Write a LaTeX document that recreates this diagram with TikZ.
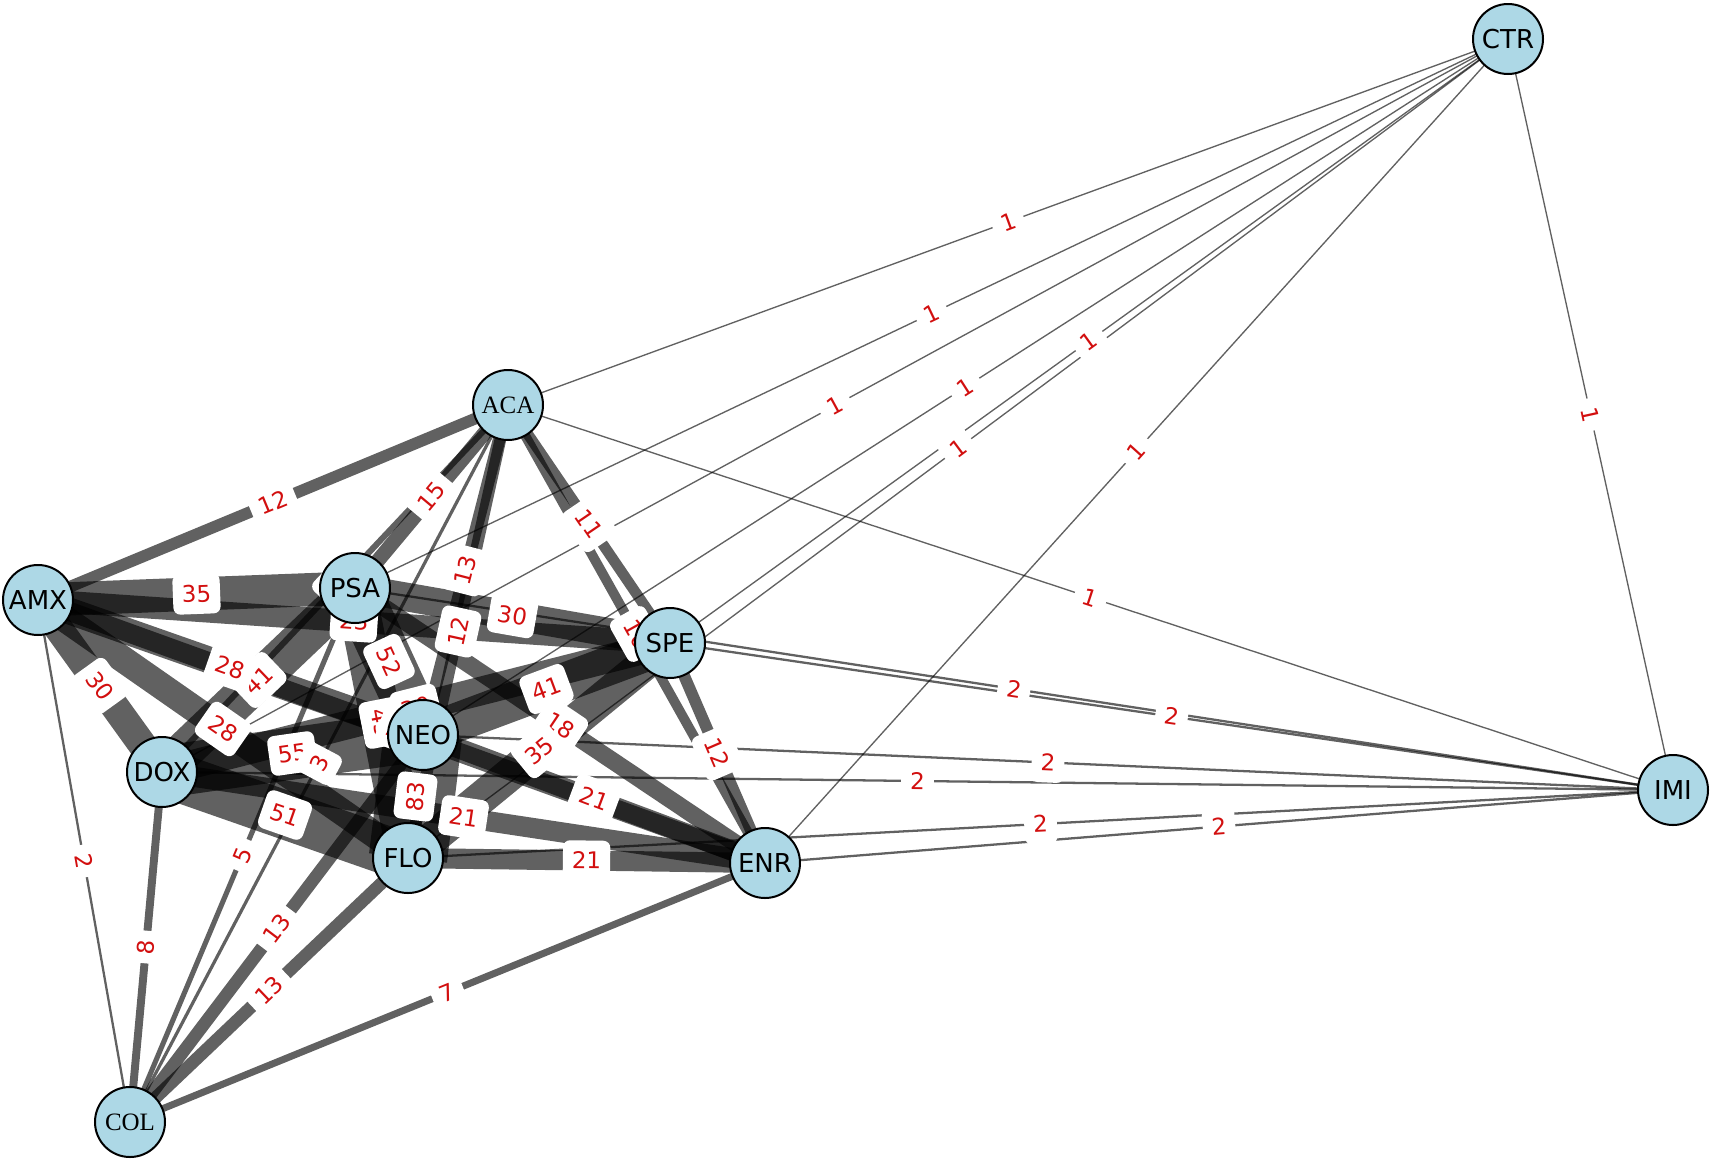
\documentclass[tikz,border=0pt]{standalone}
\usepackage{fontspec}
\newfontfamily\dejavu{DejaVu Sans}
\newfontfamily\libserif{Liberation Serif}
\definecolor{nodeblue}{RGB}{173,216,230}
\definecolor{labred}{RGB}{210,15,15}
\pgfdeclarelayer{edgelayer}
\pgfdeclarelayer{labellayer}
\pgfsetlayers{edgelayer,labellayer,main}
\tikzset{
  nd/.style={circle, draw=black, line width=1pt, fill=nodeblue, minimum size=35pt, inner sep=0pt,
    font=\dejavu\fontsize{13}{13}\selectfont},
  serifnd/.style={nd, font=\libserif\fontsize{12.5}{12.5}\selectfont},
  edgeline/.style={draw=black, draw opacity=0.62, line cap=butt},
  elab/.style={fill=white, rounded corners=3.5pt, text=labred, sloped,
    font=\dejavu\fontsize{11.5}{11.5}\selectfont, inner xsep=4.5pt, inner ysep=5.8pt,
    text height=8.4pt, text depth=0pt}
}
\begin{document}
\begin{tikzpicture}[x=0.5pt,y=-0.5pt]
\useasboundingbox (0,0) rectangle (1713,1162);
% nodes
\node[nd] (ctr) at (1508,39) {CTR};
\node[serifnd] (aca) at (508,405) {ACA};
\node[nd] (amx) at (38,600) {AMX};
\node[nd] (psa) at (355,588) {PSA};
\node[nd] (spe) at (670,643) {SPE};
\node[nd] (neo) at (423,735) {NEO};
\node[nd] (dox) at (162,772) {DOX};
\node[nd] (flo) at (408,858) {FLO};
\node[nd] (enr) at (765,863) {ENR};
\node[nd] (imi) at (1673,790) {IMI};
\node[serifnd] (col) at (130,1122) {COL};
% edges
\begin{pgfonlayer}{edgelayer}
\foreach \a/\b/\w in {ctr/aca/1, ctr/psa/1, ctr/dox/1, ctr/neo/1, ctr/spe/1, ctr/flo/1, ctr/enr/1, ctr/imi/1,
  aca/amx/12, aca/psa/15, aca/neo/13, aca/flo/12, aca/spe/11, aca/enr/10, aca/imi/1, aca/dox/6, aca/col/3,
  amx/psa/35, amx/spe/23, amx/neo/28, amx/flo/28, amx/dox/30, amx/enr/20, amx/col/2,
  psa/spe/30, psa/neo/52, psa/dox/41, psa/flo/43, psa/enr/18, psa/col/5, psa/imi/2,
  spe/neo/41, spe/dox/30, spe/flo/35, spe/enr/12, spe/imi/2,
  neo/flo/83, neo/dox/55, neo/enr/21, neo/imi/2, neo/col/13,
  dox/flo/51, dox/enr/21, dox/col/8, dox/imi/2,
  flo/enr/21, flo/imi/2, flo/col/13,
  enr/imi/2, enr/col/7}
  {\draw[edgeline, line width=\w*0.47pt+0.2pt] (\a.center) -- (\b.center);}
\end{pgfonlayer}
% edge labels
\begin{pgfonlayer}{labellayer}
\foreach \a/\b/\w in {ctr/aca/1, ctr/psa/1, ctr/dox/1, ctr/neo/1, ctr/spe/1, ctr/flo/1, ctr/enr/1, ctr/imi/1,
  aca/amx/12, aca/psa/15, aca/neo/13, aca/flo/12, aca/spe/11, aca/enr/10, aca/imi/1, aca/dox/6,
  amx/psa/35, amx/spe/23, psa/dox/41, amx/neo/28, amx/flo/28, amx/dox/30, amx/col/2,
  psa/spe/30, psa/neo/52, spe/dox/30, psa/flo/43, amx/enr/20, psa/enr/18, psa/col/5, psa/imi/2,
  spe/neo/41, spe/flo/35, spe/enr/12, spe/imi/2,
  neo/flo/83, neo/dox/55, aca/col/3, neo/enr/21, neo/imi/2, neo/col/13,
  dox/flo/51, dox/enr/21, dox/col/8, dox/imi/2,
  flo/enr/21, flo/imi/2, flo/col/13,
  enr/imi/2, enr/col/7}
  {\path (\a.center) -- node[elab] {\w} (\b.center);}
\end{pgfonlayer}
\end{tikzpicture}
\end{document}
